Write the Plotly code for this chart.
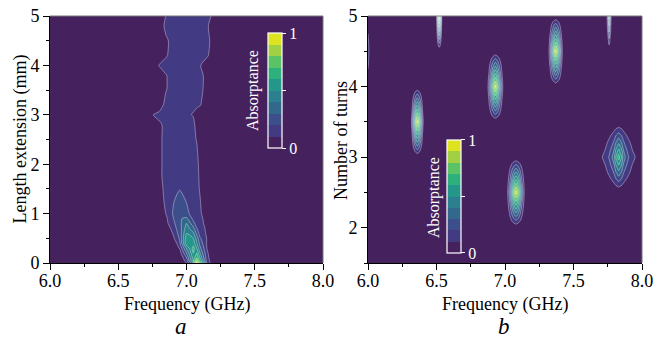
import numpy as np
import plotly.graph_objects as go

# the page body adds an 8 px margin, so the figure is drawn 8 px smaller and every
# reference pixel position is shifted by OFF
OFF = 8
W, H = 664 - OFF, 342 - OFF
FONT = "Liberation Serif"

# ---------------- panel a : absorptance vs frequency and length extension
freq_a = [6.00, 6.70, 6.75, 6.80, 6.85, 6.90, 6.95, 7.00, 7.05, 7.075, 7.10, 7.15, 7.20, 7.25, 8.00]
length_ext = [0.0, 0.05, 0.1, 0.2, 0.3, 0.4, 0.5, 0.6, 0.7, 0.8, 0.9, 1.0, 1.25, 1.5, 1.75,
              2.0, 2.5, 2.8, 3.0, 3.2, 3.5, 3.8, 4.0, 4.2, 4.5, 4.8, 5.0]
absorb_a = [
    [0, 0, 0, 0, 0, 0, 0, 0.105, 0.40, 0.95, 0.75, 0.18, 0, 0, 0],
    [0, 0, 0, 0, 0, 0, 0, 0.143, 0.60, 0.85, 0.60, 0.16, 0, 0, 0],
    [0, 0, 0, 0, 0, 0, 0, 0.195, 0.55, 0.70, 0.50, 0.14, 0, 0, 0],
    [0, 0, 0, 0, 0, 0, 0.05, 0.30, 0.60, 0.60, 0.40, 0.12, 0, 0, 0],
    [0, 0, 0, 0, 0, 0, 0.11, 0.41, 0.64, 0.50, 0.32, 0.095, 0, 0, 0],
    [0, 0, 0, 0, 0, 0, 0.18, 0.58, 0.55, 0.42, 0.26, 0.09, 0, 0, 0],
    [0, 0, 0, 0, 0, 0.07, 0.214, 0.55, 0.50, 0.36, 0.21, 0.095, 0, 0, 0],
    [0, 0, 0, 0, 0, 0.105, 0.24, 0.50, 0.42, 0.28, 0.147, 0.088, 0, 0, 0],
    [0, 0, 0, 0, 0, 0.15, 0.25, 0.45, 0.33, 0.205, 0.15, 0.079, 0, 0, 0],
    [0, 0, 0, 0, 0.07, 0.17, 0.27, 0.40, 0.24, 0.14, 0.13, 0.07, 0, 0, 0],
    [0, 0, 0, 0, 0.0775, 0.19, 0.29, 0.32, 0.17, 0.15, 0.13, 0.055, 0, 0, 0],
    [0, 0, 0, 0, 0.105, 0.205, 0.285, 0.227, 0.16, 0.14, 0.125, 0, 0, 0, 0],
    [0, 0, 0, 0, 0.143, 0.19, 0.24, 0.196, 0.16, 0.13, 0.105, 0, 0, 0, 0],
    [0, 0, 0, 0, 0.18, 0.18, 0.195, 0.18, 0.15, 0.13, 0.09, 0, 0, 0, 0],
    [0, 0, 0, 0.067, 0.15, 0.15, 0.15, 0.15, 0.15, 0.15, 0.067, 0, 0, 0, 0],
    [0, 0, 0, 0.067, 0.15, 0.15, 0.15, 0.15, 0.15, 0.192, 0, 0, 0, 0, 0],
    [0, 0, 0, 0.067, 0.15, 0.15, 0.15, 0.15, 0.15, 0.0875, 0, 0, 0, 0, 0],
    [0, 0, 0, 0.067, 0.15, 0.15, 0.15, 0.15, 0.167, 0, 0, 0, 0, 0, 0],
    [0, 0, 0.092, 0.15, 0.15, 0.15, 0.15, 0.15, 0.082, 0, 0, 0, 0, 0, 0],
    [0, 0, 0, 0, 0.167, 0.15, 0.15, 0.15, 0.15, 0.15, 0.11, 0, 0, 0, 0],
    [0, 0, 0, 0, 0.094, 0.15, 0.15, 0.15, 0.15, 0.15, 0.167, 0, 0, 0, 0],
    [0, 0, 0, 0, 0.094, 0.15, 0.15, 0.15, 0.15, 0.15, 0.185, 0, 0, 0, 0],
    [0, 0, 0, 0.11, 0.15, 0.15, 0.15, 0.15, 0.15, 0.15, 0.11, 0, 0, 0, 0],
    [0, 0, 0, 0, 0.0875, 0.15, 0.15, 0.15, 0.15, 0.15, 0.15, 0.125, 0, 0, 0],
    [0, 0, 0, 0, 0.074, 0.15, 0.15, 0.15, 0.15, 0.15, 0.15, 0.15, 0.025, 0, 0],
    [0, 0, 0, 0, 0.143, 0.15, 0.15, 0.15, 0.15, 0.15, 0.15, 0.125, 0, 0, 0],
    [0, 0, 0, 0, 0.105, 0.15, 0.15, 0.15, 0.15, 0.15, 0.15, 0.15, 0.067, 0, 0],
]

# ---------------- panel b : absorptance vs frequency and number of turns
turns = [1.5, 2.0, 2.5, 3.0, 3.5, 4.0, 4.5, 5.0]
freq_b = np.round(np.linspace(6.0, 8.0, 201), 2)       # 0.01 GHz sampling
# each peak: number of turns, first frequency, readings every 0.01 GHz
peak_turns = [3.5, 4.0, 2.5, 4.5, 3.0, 5.0, 5.0, 4.5]
peak_start = [6.31, 6.87, 7.01, 7.32, 7.66, 6.50, 7.74, 6.00]
peak_vals = [
    [0.03, 0.13, 0.32, 0.55, 0.78, 0.95, 0.78, 0.55, 0.32, 0.13, 0.03],
    [0.04, 0.14, 0.28, 0.45, 0.64, 0.82, 0.95, 0.82, 0.64, 0.45, 0.28, 0.14, 0.04],
    [0.03, 0.11, 0.22, 0.36, 0.53, 0.70, 0.85, 0.95, 0.85, 0.70, 0.53, 0.36, 0.22, 0.11, 0.03],
    [0.08, 0.21, 0.40, 0.60, 0.80, 0.95, 0.80, 0.60, 0.40, 0.21, 0.08],
    [0.01, 0.025, 0.045, 0.065, 0.085, 0.102, 0.112, 0.125, 0.15, 0.18, 0.21, 0.25, 0.29, 0.34,
     0.41, 0.52, 0.58, 0.65, 0.58, 0.52, 0.41, 0.34, 0.29, 0.25, 0.21, 0.18, 0.15, 0.125, 0.112,
     0.102, 0.085, 0.065, 0.045, 0.025, 0.01],
    [0.05, 0.45, 0.90, 0.45, 0.05],
    [0.0, 0.20, 0.55, 0.20, 0.0],
    [0.20, 0.06],
]
absorb_b = np.zeros((len(turns), len(freq_b)))
for t, f0, vals in zip(peak_turns, peak_start, peak_vals):
    i = turns.index(t)
    j = int(round((f0 - 6.0) / 0.01))
    absorb_b[i, j:j + len(vals)] = vals

band_colors = ['#45215e', '#433a84', '#3d4f8a', '#33688d', '#2b7f8e',
               '#24968a', '#2eb07c', '#5bc266', '#a2d043', '#dde31e']
cscale = [[i / 9, c] for i, c in enumerate(band_colors)]
levels = dict(start=0.1, end=0.9, size=0.1)
LINE = 'rgba(255,255,255,0.45)'


def px(x):  # reference x pixel -> paper fraction
    return (x - OFF) / W


def py(y):  # reference y pixel -> paper fraction
    return 1 - (y - OFF) / H


def cbar(x0, yc, length):
    return dict(x=px(x0), xanchor='left', y=py(yc), yanchor='middle',
                len=length, lenmode='pixels', thickness=14, thicknessmode='pixels',
                xpad=0, ypad=0, outlinecolor='white', outlinewidth=1.2,
                tickmode='array', tickvals=[0, 0.5, 1], ticktext=['0', '', '1'],
                ticks='outside', ticklen=4, tickwidth=1.2, tickcolor='white',
                tickfont=dict(family=FONT, size=16, color='white'))


fig = go.Figure()
fig.add_trace(go.Contour(x=freq_a, y=length_ext, z=absorb_a, xaxis='x', yaxis='y',
                         contours=dict(**levels, coloring='fill', showlines=False),
                         colorscale=cscale, zmin=0, zmax=1, line=dict(smoothing=0.7),
                         colorbar=cbar(267.7, 90.5, 115), hoverinfo='skip'))
fig.add_trace(go.Contour(x=freq_a, y=length_ext, z=absorb_a, xaxis='x', yaxis='y',
                         contours=dict(**levels, coloring='none'), showscale=False,
                         line=dict(color=LINE, width=0.8, smoothing=0.7), hoverinfo='skip'))
fig.add_trace(go.Contour(x=freq_b, y=turns, z=absorb_b, xaxis='x2', yaxis='y2',
                         contours=dict(**levels, coloring='fill', showlines=False),
                         colorscale=cscale, zmin=0, zmax=1, line=dict(smoothing=1),
                         colorbar=cbar(446.7, 196.4, 113), hoverinfo='skip'))
fig.add_trace(go.Contour(x=freq_b, y=turns, z=absorb_b, xaxis='x2', yaxis='y2',
                         contours=dict(**levels, coloring='none'), showscale=False,
                         line=dict(color=LINE, width=0.8, smoothing=1), hoverinfo='skip'))

ydom = [py(263), py(16)]
tickfont = dict(family=FONT, size=18, color='black')
xcommon = dict(range=[6, 8], tick0=6, dtick=0.5, tickformat='.1f', ticks='outside', ticklen=6,
               tickcolor='black', showline=True, linecolor='black', linewidth=1,
               showgrid=False, zeroline=False, tickfont=tickfont, automargin=False,
               ticklabeloverflow='allow', ticklabelstandoff=-5,
               minor=dict(dtick=0.25, ticks='outside', ticklen=3, tickcolor='black', showgrid=False))
ycommon = dict(tick0=0, dtick=1, ticks='outside', ticklen=6, tickcolor='black', showline=True,
               linecolor='black', linewidth=1, showgrid=False, zeroline=False, tickfont=tickfont,
               automargin=False, ticklabeloverflow='allow',
               minor=dict(dtick=0.5, ticks='outside', ticklen=3, tickcolor='black', showgrid=False))

fig.update_layout(
    width=W, height=H, margin=dict(l=0, r=0, t=0, b=0, autoexpand=False),
    paper_bgcolor='white', plot_bgcolor=band_colors[0], showlegend=False,
    font=dict(family=FONT),
    xaxis=dict(domain=[px(50), px(323)], anchor='y', **xcommon),
    yaxis=dict(domain=ydom, anchor='x', range=[0, 5], **ycommon),
    xaxis2=dict(domain=[px(368), px(642)], anchor='y2', **xcommon),
    yaxis2=dict(domain=ydom, anchor='x2', range=[1.5, 5], **ycommon),
)

# thin grey frame on top / right
for x0, x1 in [(50, 323), (368, 642)]:
    fig.add_shape(type='line', xref='paper', yref='paper', x0=px(x0), x1=px(x1),
                  y0=ydom[1], y1=ydom[1], line=dict(color='#777777', width=1))
    fig.add_shape(type='line', xref='paper', yref='paper', x0=px(x1), x1=px(x1),
                  y0=ydom[0], y1=ydom[1], line=dict(color='#777777', width=1))


def ann(text, x, y, size=18, angle=0, color='black'):
    fig.add_annotation(text=text, x=px(x), y=py(y), xref='paper', yref='paper',
                       showarrow=False, textangle=angle, xanchor='center', yanchor='middle',
                       font=dict(family=FONT, size=size, color=color))


ann('Length extension (mm)', 20, 139.5, angle=-90)
ann('Number of turns', 341, 140, angle=-90)
ann('Frequency (GHz)', 186.5, 304)
ann('Frequency (GHz)', 505, 304)
ann('<i>a</i>', 181, 326, size=23)
ann('<i>b</i>', 504, 326, size=23)
ann('Absorptance', 253, 91, size=16, angle=-90, color='white')
ann('Absorptance', 434, 198, size=16, angle=-90, color='white')

fig.write_html('out.html')
